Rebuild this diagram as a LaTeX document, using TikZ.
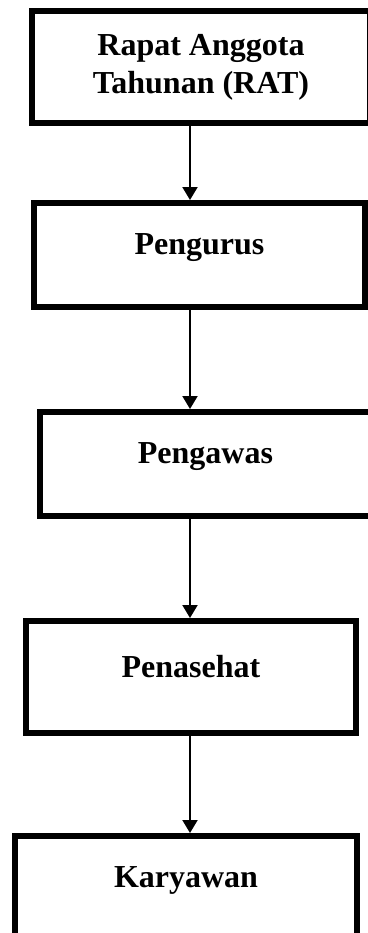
\documentclass[tikz,border=0pt]{standalone}
\usepackage{fontspec}
\setmainfont{Liberation Serif}
\usetikzlibrary{calc,arrows.meta}

\begin{document}
\begin{tikzpicture}[x=0.5pt,y=-0.5pt,
                    box/.style={draw,line width=3pt,rectangle,align=center,inner sep=0pt,
                                font={\fontsize{16}{19}\selectfont\bfseries}},
                    link/.style={-{Triangle[width=7.5pt,length=6.5pt]},line width=1pt}]
            \useasboundingbox (0,0) rectangle (368,933);
            \clip (0,0) rectangle (368,933);

            \node[box,minimum width=169pt,minimum height=56pt] (rat) at (201,67) {
                Rapat Anggota\\
                Tahunan (RAT)
            };

            \node[box,minimum width=165.5pt,minimum height=52pt,text height=11pt,text depth=12pt] (pengurus) at (199.5,255) {Pengurus};

            \node[box,minimum width=165.5pt,minimum height=52pt,text height=11pt,text depth=12pt] (pengawas) at (205.5,464) {Pengawas};

            \node[box,minimum width=165pt,minimum height=56pt,text height=11pt,text depth=11pt] (penasehat) at (191,677) {Penasehat};

            \node[box,minimum width=171pt,minimum height=56pt,text height=11pt,text depth=16pt] (karyawan) at (186,892) {Karyawan};

            \coordinate (spine) at (190,0);

            \draw[link] (rat.south -| spine) -- (pengurus.north -| spine);
            \draw[link] (pengurus.south -| spine) -- (pengawas.north -| spine);
            \draw[link] (pengawas.south -| spine) -- (penasehat.north -| spine);
            \draw[link] (penasehat.south -| spine) -- (karyawan.north -| spine);
        \end{tikzpicture}
\end{document}
